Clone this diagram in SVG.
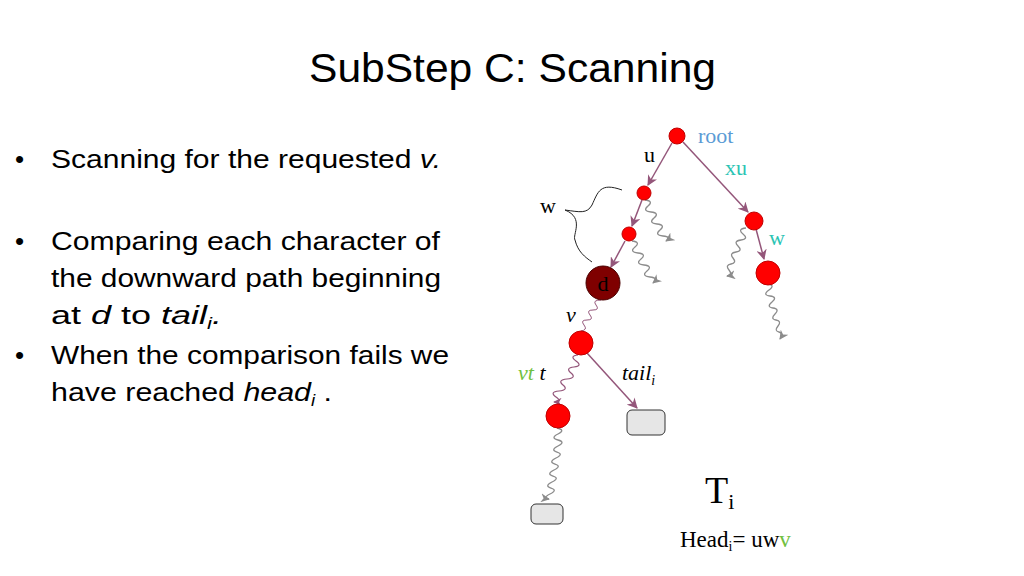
<svg xmlns="http://www.w3.org/2000/svg" width="1024" height="576" viewBox="0 0 1024 576">
<defs>
<marker id="ap" viewBox="0 0 10 10" refX="9" refY="5" markerWidth="7" markerHeight="7" orient="auto"><path d="M0,0 L10,5 L0,10 L3,5 Z" fill="#94567a"/></marker>
<marker id="ag" viewBox="0 0 10 10" refX="9" refY="5" markerWidth="7" markerHeight="7" orient="auto"><path d="M0,0 L10,5 L0,10 L3,5 Z" fill="#8c8c8c"/></marker>
</defs>
<style>
.s{font-family:"Liberation Sans",Arial,sans-serif;font-size:26px;fill:#000}
.r{font-family:"Liberation Serif","Times New Roman",serif;font-size:22px;fill:#000}
.e{stroke:#94567a;stroke-width:1.5;fill:none}
.g{stroke:#8c8c8c;stroke-width:1.3;fill:none}
.n{fill:#ff0000;stroke:#c00000;stroke-width:1}
.b{fill:#e6e6e6;stroke:#333;stroke-width:1}
</style>
<rect width="1024" height="576" fill="#fff"/>
<text x="309" y="82" textLength="407" lengthAdjust="spacingAndGlyphs" style="font-family:'Liberation Sans',Arial,sans-serif;font-size:40px">SubStep C: Scanning</text>
<text class="s" x="15" y="168">•</text><text class="s" x="51" y="168" textLength="390" lengthAdjust="spacingAndGlyphs">Scanning for the requested <tspan font-style="italic">v.</tspan></text>
<text class="s" x="15" y="250">•</text><text class="s" x="51" y="250" textLength="389" lengthAdjust="spacingAndGlyphs">Comparing each character of</text>
<text class="s" x="51" y="287" textLength="390" lengthAdjust="spacingAndGlyphs">the downward path beginning</text>
<text class="s" x="51" y="324" textLength="171" lengthAdjust="spacingAndGlyphs">at <tspan font-style="italic">d</tspan> to <tspan font-style="italic">tail<tspan font-size="16" dy="5">i</tspan><tspan dy="-5">.</tspan></tspan></text>
<text class="s" x="15" y="364">•</text><text class="s" x="51" y="364" textLength="398" lengthAdjust="spacingAndGlyphs">When the comparison fails we</text>
<text class="s" x="51" y="401" textLength="281" lengthAdjust="spacingAndGlyphs">have reached <tspan font-style="italic">head<tspan font-size="16" dy="5">i</tspan></tspan><tspan dy="-5"> .</tspan></text>
<g id="connectors">
<line class="e" x1="672" y1="143" x2="648" y2="185" marker-end="url(#ap)"/>
<line class="e" x1="642" y1="200" x2="632" y2="226" marker-end="url(#ap)"/>
<line class="e" x1="625" y1="241" x2="611" y2="267" marker-end="url(#ap)"/>
<line class="e" x1="683" y1="142" x2="748" y2="212" marker-end="url(#ap)"/>
<line class="e" x1="756" y1="229" x2="764" y2="259" marker-end="url(#ap)"/>
<line class="e" x1="587" y1="353" x2="637" y2="408" marker-end="url(#ap)"/>
<path class="g" d="M645,200 q9,1 3,6 t3,6 t3,6 t3,6 t3,6 t3,6 t3,5" marker-end="url(#ag)"/>
<path class="g" d="M632,241 q9,1 3,6 t3,6 t3,6 t3,6 t3,6 t3,6 t3,6" marker-end="url(#ag)"/>
<path class="g" d="M746,228 q-9,1 -3,6 t-2,6 t-3,6 t-2,6 t-3,6 t-2,6 t-2,6 t-2,6" marker-end="url(#ag)"/>
<path class="g" d="M767,284 q9,1 2,6 t1,6 t2,6 t1,6 t2,6 t1,6 t2,6 t1,6 t1,7" marker-end="url(#ag)"/>
<path class="e" style="stroke-width:1" d="M601,300 q-9,0 -5,5 t-3,5 t-3,5 t-3,5 t-3,5 t-3,6"/>
<path class="e" style="stroke-width:1.2" d="M578,355 q-9,1 -2,6 t-2,6 t-3,6 t-4,6 t-4,6 t-4,6 t-3,6 t-2,5" marker-end="url(#ap)"/>
<path class="g" d="M557,428 q9,2 1,6 t0,6 t0,6 t-1,6 t-1,6 t-1,6 t-1,6 t-1,6 t-1,6 t-1,6 t-1,6 t-1,5" marker-end="url(#ag)"/>
<path d="M622,190 C600,182 598,192 592,205 C587,214 580,212 565,210 C585,218 572,235 575,240 C578,252 585,257 592,262" fill="none" stroke="#222" stroke-width="1"/>
</g>
<g id="root"><circle class="n" cx="677" cy="136" r="8"/></g>
<g id="na"><circle class="n" cx="644" cy="193" r="7"/></g>
<g id="nb"><circle class="n" cx="629" cy="234" r="7"/></g>
<g id="nd"><circle cx="603" cy="283" r="17" fill="#7f0000" stroke="#4a0000"/><text class="r" x="603" y="291" text-anchor="middle">d</text></g>
<g id="r1"><circle class="n" cx="754" cy="221" r="9"/></g>
<g id="r2"><circle class="n" cx="768" cy="273" r="12"/></g>
<g id="nv"><circle class="n" cx="581" cy="343" r="12"/></g>
<g id="nvt"><circle class="n" cx="558" cy="416" r="12"/></g>
<g id="tail"><rect class="b" x="627" y="410" width="38" height="25" rx="5"/></g>
<g id="leaf"><rect class="b" x="531" y="504" width="32" height="20" rx="5"/></g>
<g id="labels">
<text class="r" x="698" y="143" style="fill:#5b9bd5">root</text>
<text class="r" x="644" y="162">u</text>
<text class="r" x="725" y="175" style="fill:#2bc4b4">xu</text>
<text class="r" x="540" y="213">w</text>
<text class="r" x="769" y="245" style="fill:#2bc4b4">w</text>
<text class="r" x="566" y="322" font-style="italic">v</text>
<text class="r" x="518" y="380" font-style="italic"><tspan style="fill:#70c040">vt</tspan> t</text>
<text class="r" x="622" y="380" font-style="italic">tail<tspan style="font-size:14px" dy="5">i</tspan></text>
<text class="r" x="705" y="503" style="font-size:38px">T<tspan style="font-size:22px" dy="6">i</tspan></text>
<text class="r" x="680" y="547" style="font-size:23px">Head<tspan style="font-size:14px" dy="4">i</tspan><tspan dy="-4">= uw</tspan><tspan style="fill:#70c040">v</tspan></text>
</g>
</svg>
